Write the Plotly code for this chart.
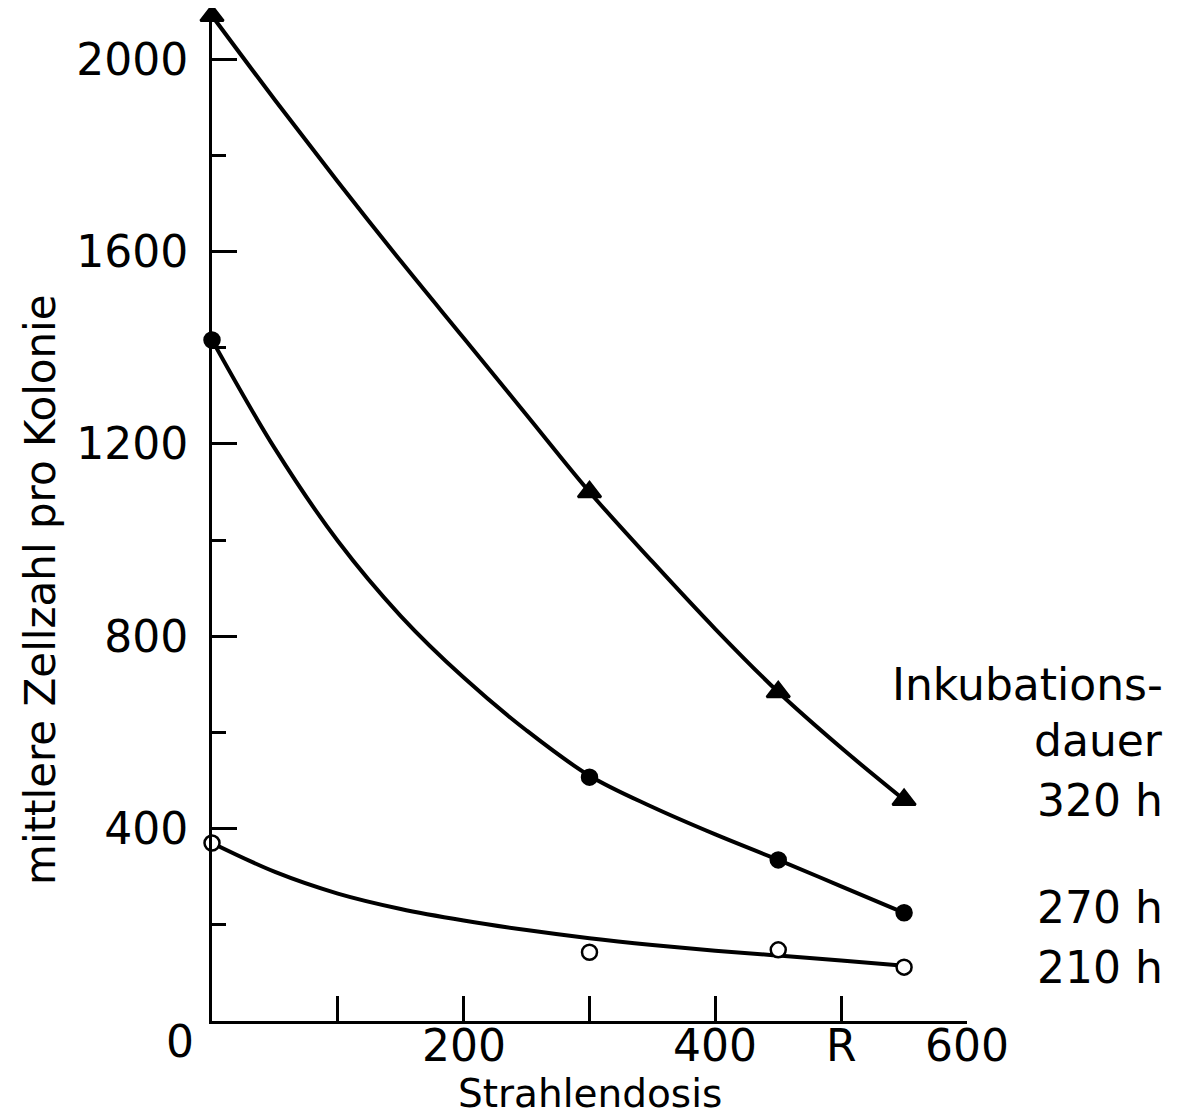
import plotly.graph_objects as go

# Measured points (dose in R, mean cell count per colony)
dose_pts = [0, 300, 450, 550]
pts_320h = [2090, 1100, 684, 460]
pts_270h = [1416, 507, 335, 225]
pts_210h = [370, 143, 148, 112]

# Fitted curves as drawn in the figure
dose_curve = [0, 50, 100, 150, 200, 250, 300, 350, 400, 450, 500, 550]
curve_320h = [2090, 1915, 1745, 1580, 1420, 1260, 1100, 955, 815, 684, 568, 460]
curve_270h = [1416, 1190, 998, 842, 714, 604, 510, 445, 388, 335, 280, 225]
curve_210h = [370, 310, 265, 233, 209, 189, 172, 158, 146, 136, 126, 115]

x_tickvals = [100, 200, 300, 400, 500, 600]
x_ticktext = ["", "200", "", "400", "R", "600"]
y_tickvals = [400, 800, 1200, 1600, 2000]
y_ticktext = ["400", "800", "1200", "1600", "2000"]
y_minor = [200, 600, 1000, 1400, 1800]

labels = ["Inkubations-", "dauer", "320 h", "270 h", "210 h"]
label_y = [700, 584, 459, 235, 112]

FONT = "DejaVu Sans"
FS = 44

# page body has an 8px margin: figure origin sits at (8, 8)
W, H = 1185, 1110
L, R, T, B = 204, 226, 3, 97
plot_h = H - T - B

fig = go.Figure()

for curve, pts, sym, fill, msize in [
    (curve_320h, pts_320h, "triangle-up", "black", 20),
    (curve_270h, pts_270h, "circle", "black", 15),
    (curve_210h, pts_210h, "circle", "white", 15),
]:
    fig.add_trace(go.Scatter(x=dose_curve, y=curve, mode="lines",
                             line=dict(color="black", width=4, shape="spline", smoothing=1.0),
                             cliponaxis=False, showlegend=False, hoverinfo="skip"))
    fig.add_trace(go.Scatter(x=dose_pts, y=pts, mode="markers",
                             marker=dict(symbol=sym, size=msize, color=fill,
                                         line=dict(color="black", width=2.5)),
                             cliponaxis=False, showlegend=False))

for txt, yy in zip(labels, label_y):
    fig.add_annotation(x=1.262, xref="paper", y=yy, yref="y", text=txt,
                       showarrow=False, xanchor="right", yanchor="middle",
                       font=dict(family=FONT, size=FS, color="black"))

# x tick labels placed just under the axis (as in the original)
for tv, tt in zip(x_tickvals, x_ticktext):
    if tt:
        fig.add_annotation(x=tv, xref="x", y=(1021 - 1045) / plot_h, yref="paper",
                           text=tt, showarrow=False, xanchor="center", yanchor="middle",
                           font=dict(family=FONT, size=FS, color="black"))

fig.add_annotation(x=0, y=0, xref="x", yref="y", text="0", showarrow=False,
                   xanchor="right", yanchor="middle", xshift=-16, yshift=-20,
                   font=dict(family=FONT, size=FS, color="black"))

# y-axis title
fig.add_annotation(x=(40 - 212) / 755, xref="paper", y=(1021 - 590) / plot_h, yref="paper",
                   text="mittlere Zellzahl pro Kolonie",
                   showarrow=False, textangle=-90, xanchor="center", yanchor="middle",
                   font=dict(family=FONT, size=42, color="black"))

# x-axis title
fig.add_annotation(x=0.5, xref="paper", y=(1021 - 1093) / plot_h, yref="paper",
                   text="Strahlendosis",
                   showarrow=False, xanchor="center", yanchor="middle",
                   font=dict(family=FONT, size=39, color="black"))

fig.update_layout(
    width=W, height=H,
    margin=dict(l=L, r=R, t=T, b=B),
    plot_bgcolor="white", paper_bgcolor="white",
    font=dict(family=FONT, size=FS, color="black"),
    xaxis=dict(range=[0, 600], showgrid=False, zeroline=False, automargin=False,
               showline=True, linecolor="black", linewidth=3,
               ticks="inside", ticklen=25, tickwidth=2.5, tickcolor="black",
               tickvals=x_tickvals, showticklabels=False),
    yaxis=dict(range=[0, 2100], showgrid=False, zeroline=False, automargin=False,
               showline=True, linecolor="black", linewidth=3,
               ticks="inside", ticklen=25, tickwidth=2.5, tickcolor="black",
               tickvals=y_tickvals, ticktext=y_ticktext,
               ticklabelstandoff=12,
               minor=dict(tickvals=y_minor, ticks="inside", ticklen=14,
                          tickwidth=2.5, tickcolor="black")),
)

fig.write_html("out.html")
